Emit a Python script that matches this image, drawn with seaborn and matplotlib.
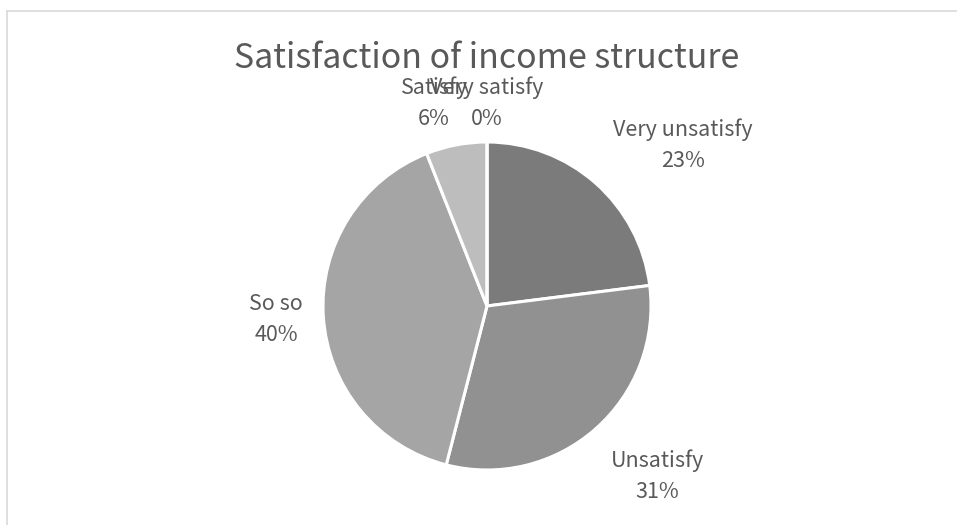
import numpy as np
import matplotlib
matplotlib.use("Agg")
import matplotlib.pyplot as plt
from matplotlib.lines import Line2D
import seaborn as sns

# Survey answers: share of respondents per satisfaction level (%)
categories = ["Very unsatisfy", "Unsatisfy", "So so", "Satisfy", "Very satisfy"]
shares = [23, 31, 40, 6, 0]
pct_labels = ["23%", "31%", "40%", "6%", "0%"]
title = "Satisfaction of income structure"

# Styling
wedge_colors = ["#7b7b7b", "#919191", "#a5a5a5", "#bdbdbd", "#d3d3d3"]
label_dist = [1.547, 1.466, 1.289, 1.279, 1.238]  # radial distance of label centres
label_shift = [-9.2, 3.6, 0.0, 3.8, 0.0]            # angular nudge of labels (deg)
text_color = "#595959"

sns.set_theme(style="white")
plt.rcParams["font.family"] = ["Noto Sans CJK SC", "DejaVu Sans"]

W, H, DPI = 957, 525, 100
fig = plt.figure(figsize=(W / DPI, H / DPI), dpi=DPI)
fig.patch.set_facecolor("white")

# Axes fill the figure; one data unit equals the pie radius in pixels
cx, cy, r_px = 487, 306, 164
ax = fig.add_axes([0, 0, 1, 1])

wedges, _ = ax.pie(
    shares,
    colors=wedge_colors,
    startangle=90,
    counterclock=False,
    radius=1.0,
    center=(0, 0),
    wedgeprops=dict(edgecolor="white", linewidth=2.2),
    frame=True,
)
ax.set_xlim(-cx / r_px, (W - cx) / r_px)
ax.set_ylim(-(H - cy) / r_px, cy / r_px)
ax.set_aspect("auto")
ax.axis("off")

# Category and percentage labels outside each wedge
for w, name, pct, d, s in zip(wedges, categories, pct_labels, label_dist, label_shift):
    mid = np.deg2rad((w.theta1 + w.theta2) / 2 + s)
    x, y = d * np.cos(mid), d * np.sin(mid)
    ax.text(x, y, f"{name}\n{pct}", ha="center", va="center",
            fontsize=15.5, color=text_color, linespacing=1.5,
            fontweight="light")

fig.text(486.5 / W, 1 - 68 / H, title, ha="center", va="baseline",
         fontsize=24.4, color=text_color, fontweight="light")

# Thin chart-area border along the top and left edges
border = "#d9d9d9"
fig.add_artist(Line2D([7 / W, 1], [1 - 11 / H, 1 - 11 / H], color=border, lw=1.2,
                      transform=fig.transFigure))
fig.add_artist(Line2D([7 / W, 7 / W], [0, 1 - 11 / H], color=border, lw=1.2,
                      transform=fig.transFigure))

fig.savefig("out.png", dpi=DPI, facecolor="white")
